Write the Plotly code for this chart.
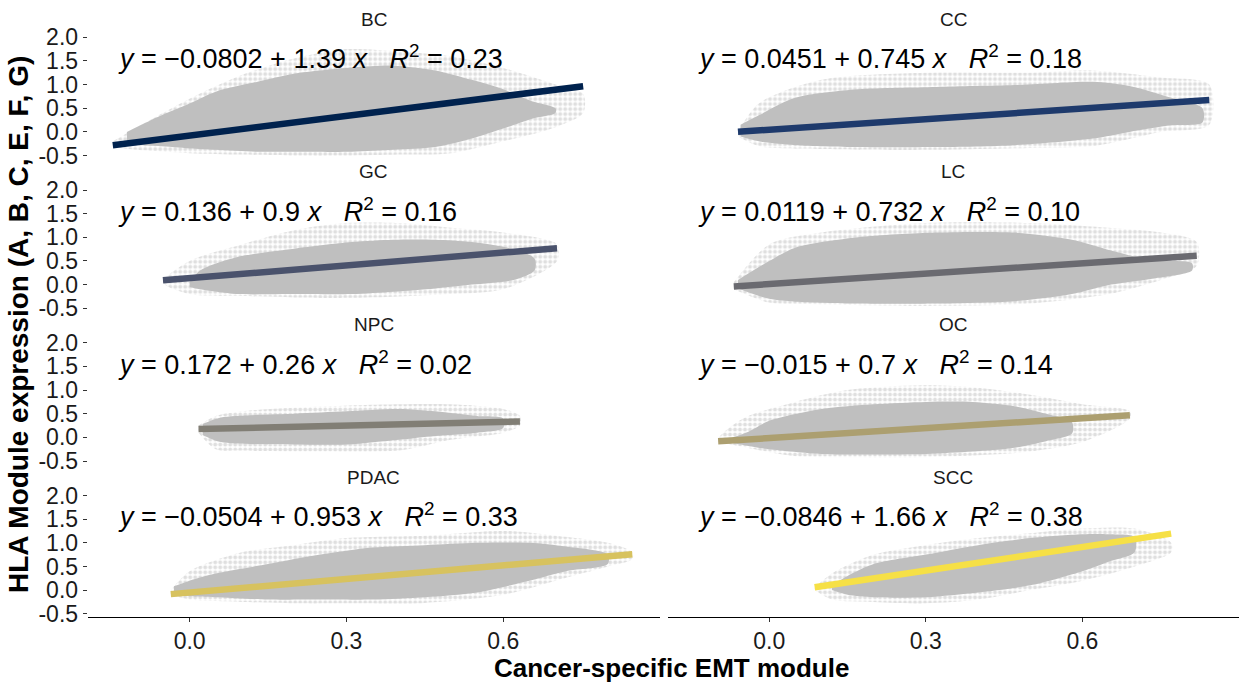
import plotly.graph_objects as go

# ---- per-cancer regression summaries ----
panels = ["BC", "CC", "GC", "LC", "NPC", "OC", "PDAC", "SCC"]
intercepts = [-0.0802, 0.0451, 0.136, 0.0119, 0.172, -0.015, -0.0504, -0.0846]
slopes = [1.39, 0.745, 0.9, 0.732, 0.26, 0.7, 0.953, 1.66]
intercept_labels = ["\u22120.0802", "0.0451", "0.136", "0.0119", "0.172", "\u22120.015", "\u22120.0504", "\u22120.0846"]
slope_labels = ["1.39", "0.745", "0.9", "0.732", "0.26", "0.7", "0.953", "1.66"]
r2_labels = ["0.23", "0.18", "0.16", "0.10", "0.02", "0.14", "0.33", "0.38"]
# EMT score range covered by each cancer's cells
emt_min = [-0.147, -0.060, -0.051, -0.068, 0.017, -0.098, -0.036, 0.087]
emt_max = [0.753, 0.843, 0.703, 0.819, 0.632, 0.691, 0.847, 0.770]

# ---- outline of the cell clouds (dense core and sparse fringe) ----
core_x = [
    [-0.12, -0.06, 0.0, 0.05, 0.13, 0.2, 0.31, 0.39, 0.47, 0.54, 0.6, 0.655, 0.7],
    [-0.055, -0.02, 0.05, 0.17, 0.32, 0.47, 0.62, 0.69, 0.77, 0.83],
    [0.0, 0.02, 0.09, 0.2, 0.31, 0.39, 0.47, 0.54, 0.62, 0.66],
    [-0.06, 0.0, 0.05, 0.17, 0.32, 0.47, 0.58, 0.655, 0.73, 0.81],
    [0.025, 0.06, 0.2, 0.3, 0.4, 0.47, 0.55, 0.6],
    [-0.07, -0.04, 0.0, 0.1, 0.2, 0.3, 0.39, 0.47, 0.53, 0.58],
    [-0.03, 0.0, 0.05, 0.15, 0.25, 0.35, 0.45, 0.55, 0.65, 0.72, 0.8],
    [0.12, 0.15, 0.2, 0.3, 0.4, 0.5, 0.6, 0.65, 0.7],
]
core_hi = [
    [0.0, 0.32, 0.6, 0.85, 1.06, 1.23, 1.36, 1.4, 1.3, 1.1, 0.9, 0.65, 0.5],
    [0.15, 0.35, 0.72, 0.9, 0.95, 0.99, 1.06, 0.97, 0.72, 0.5],
    [0.05, 0.3, 0.58, 0.76, 0.9, 0.95, 0.95, 0.9, 0.75, 0.55],
    [0.1, 0.5, 0.78, 1.0, 1.1, 1.1, 0.95, 0.72, 0.52, 0.45],
    [0.28, 0.42, 0.5, 0.55, 0.6, 0.55, 0.45, 0.4],
    [0.0, 0.12, 0.35, 0.6, 0.7, 0.75, 0.75, 0.66, 0.5, 0.32],
    [0.08, 0.2, 0.35, 0.55, 0.75, 0.9, 0.95, 1.0, 1.0, 0.92, 0.75],
    [0.1, 0.3, 0.55, 0.75, 0.95, 1.1, 1.18, 1.18, 1.12],
]
core_lo = [
    [-0.26, -0.3, -0.35, -0.38, -0.42, -0.42, -0.42, -0.38, -0.32, -0.14, 0.07, 0.28, 0.4],
    [-0.1, -0.2, -0.28, -0.32, -0.32, -0.28, -0.14, 0.0, 0.14, 0.2],
    [-0.05, -0.1, -0.2, -0.2, -0.2, -0.15, -0.08, 0.0, 0.1, 0.3],
    [-0.08, -0.3, -0.36, -0.4, -0.4, -0.35, -0.2, 0.0, 0.12, 0.3],
    [0.05, -0.1, -0.15, -0.15, -0.05, 0.03, 0.1, 0.2],
    [-0.12, -0.18, -0.25, -0.35, -0.36, -0.35, -0.3, -0.22, -0.08, 0.08],
    [-0.1, -0.13, -0.15, -0.2, -0.2, -0.2, -0.15, -0.05, 0.2, 0.4, 0.55],
    [0.0, -0.1, -0.15, -0.15, -0.05, 0.1, 0.4, 0.6, 0.8],
]
fringe_x = [
    [-0.147, -0.1, 0.0, 0.1, 0.2, 0.3, 0.4, 0.5, 0.6, 0.7, 0.753],
    [-0.06, -0.02, 0.1, 0.3, 0.5, 0.62, 0.75, 0.843],
    [-0.051, 0.0, 0.1, 0.2, 0.3, 0.4, 0.5, 0.6, 0.703],
    [-0.068, 0.0, 0.1, 0.3, 0.5, 0.65, 0.75, 0.819],
    [0.017, 0.05, 0.1, 0.25, 0.4, 0.5, 0.6, 0.632],
    [-0.098, -0.05, 0.05, 0.15, 0.3, 0.4, 0.5, 0.6, 0.691],
    [-0.036, 0.0, 0.1, 0.2, 0.3, 0.45, 0.6, 0.7, 0.8, 0.847],
    [0.087, 0.12, 0.2, 0.3, 0.4, 0.5, 0.6, 0.7, 0.77],
]
fringe_hi = [
    [-0.2, 0.1, 0.7, 1.2, 1.55, 1.75, 1.7, 1.6, 1.35, 1.0, 0.8],
    [0.0, 0.6, 1.1, 1.25, 1.25, 1.3, 1.15, 1.0],
    [0.05, 0.5, 0.85, 1.15, 1.3, 1.3, 1.2, 1.1, 0.85],
    [0.05, 0.85, 1.1, 1.3, 1.3, 1.2, 1.1, 0.9],
    [0.25, 0.45, 0.55, 0.65, 0.7, 0.7, 0.6, 0.45],
    [-0.05, 0.4, 0.75, 1.0, 1.1, 1.05, 0.9, 0.7, 0.55],
    [0.0, 0.4, 0.8, 0.95, 1.1, 1.15, 1.25, 1.15, 1.0, 0.8],
    [0.05, 0.35, 0.75, 0.95, 1.1, 1.2, 1.3, 1.3, 1.0],
]
fringe_lo = [
    [-0.32, -0.38, -0.45, -0.48, -0.5, -0.5, -0.48, -0.45, -0.2, 0.1, 0.4],
    [-0.1, -0.3, -0.36, -0.38, -0.34, -0.3, 0.0, 0.15],
    [0.05, -0.2, -0.24, -0.27, -0.28, -0.25, -0.2, -0.1, 0.5],
    [-0.1, -0.38, -0.42, -0.45, -0.4, -0.2, 0.1, 0.4],
    [0.1, -0.25, -0.28, -0.3, -0.28, -0.05, 0.1, 0.25],
    [-0.05, -0.2, -0.4, -0.42, -0.42, -0.38, -0.3, -0.1, 0.4],
    [-0.1, -0.2, -0.25, -0.28, -0.28, -0.27, -0.1, 0.2, 0.5, 0.65],
    [0.0, -0.2, -0.25, -0.28, -0.2, 0.0, 0.2, 0.5, 0.8],
]

line_colors = ["#00224E", "#1E3A6C", "#4A526C", "#6A6A70", "#817E75", "#AC9F70", "#D7C25F", "#F6E046"]
y_ticks = [-0.5, 0.0, 0.5, 1.0, 1.5, 2.0]
x_ticks = [0.0, 0.3, 0.6]

W, H = 1239, 690
col_px = [(87.7, 660.0), (667.5, 1239.0)]
row_top_px = [25.2 + 156.6 * k for k in range(4)]
panel_h_px = 130.0
x_range = [-0.195, 0.9]
y_range = [-0.56, 2.12]

CLOUD = "#BFBFBF"
FONT = "Liberation Sans, Arial, Helvetica, sans-serif"

fig = go.Figure()
layout_axes = {}
annotations = []

for i, name in enumerate(panels):
    r, c = divmod(i, 2)
    n = i + 1
    xa = "x" if n == 1 else f"x{n}"
    ya = "y" if n == 1 else f"y{n}"

    # sparse, speckled fringe of the cloud
    fx = fringe_x[i] + fringe_x[i][::-1]
    fy = fringe_hi[i] + fringe_lo[i][::-1]
    fig.add_trace(go.Scatter(x=fx, y=fy, fill="toself",
                             fillpattern=dict(shape=".", fgcolor=CLOUD, bgcolor="#FFFFFF",
                                              size=5, solidity=0.5),
                             mode="lines", line=dict(width=0, shape="spline", smoothing=0.8),
                             hoverinfo="skip", showlegend=False, xaxis=xa, yaxis=ya))
    # dense core of the cloud
    cx = core_x[i] + core_x[i][::-1]
    cy = core_hi[i] + core_lo[i][::-1]
    fig.add_trace(go.Scatter(x=cx, y=cy, fill="toself", fillcolor=CLOUD,
                             mode="lines", line=dict(width=0, shape="spline", smoothing=0.8),
                             hoverinfo="skip", showlegend=False, xaxis=xa, yaxis=ya))
    # fitted regression line
    lx = [emt_min[i], emt_max[i]]
    ly = [intercepts[i] + slopes[i] * v for v in lx]
    fig.add_trace(go.Scatter(x=lx, y=ly, mode="lines",
                             line=dict(color=line_colors[i], width=6.5),
                             hoverinfo="skip", showlegend=False, xaxis=xa, yaxis=ya))

    x0, x1 = col_px[c]
    top = row_top_px[r]
    bot = top + panel_h_px
    bottom_row = r == 3
    left_col = c == 0

    layout_axes["xaxis" if n == 1 else f"xaxis{n}"] = dict(
        domain=[x0 / W, x1 / W], range=x_range, anchor=ya,
        showgrid=False, zeroline=False,
        showline=bottom_row, linecolor="#000000", linewidth=1.2,
        ticks="outside" if bottom_row else "", ticklen=4, tickcolor="#333333",
        tickvals=x_ticks if bottom_row else [],
        ticktext=[f"{v:.1f}" for v in x_ticks] if bottom_row else [],
        showticklabels=bottom_row,
        tickfont=dict(family=FONT, size=23, color="#1a1a1a"),
    )
    layout_axes["yaxis" if n == 1 else f"yaxis{n}"] = dict(
        domain=[1 - bot / H, 1 - top / H], range=y_range, anchor=xa,
        showgrid=False, zeroline=False, showline=False,
        ticks="outside" if left_col else "", ticklen=4, tickcolor="#333333",
        tickvals=y_ticks if left_col else [],
        ticktext=[f"{v:.1f}" for v in y_ticks] if left_col else [],
        showticklabels=left_col,
        tickfont=dict(family=FONT, size=23, color="#1a1a1a"),
    )

    # facet strip title
    annotations.append(dict(
        text=name, xref=f"{xa} domain", yref=f"{ya} domain", x=0.5, y=1.0,
        xanchor="center", yanchor="bottom", yshift=0, showarrow=False,
        font=dict(family=FONT, size=19, color="#1a1a1a"),
    ))
    # regression equation
    sp = "\u00a0"
    eq = (f"<i>y</i>{sp}={sp}{intercept_labels[i]}{sp}+{sp}{slope_labels[i]}{sp}<i>x</i>"
          f"{sp*3}<i>R</i><sup>2</sup>{sp}={sp}{r2_labels[i]}")
    annotations.append(dict(
        text=eq, xref=xa, yref=ya, x=-0.14, y=1.58,
        xanchor="left", yanchor="middle", showarrow=False,
        font=dict(family=FONT, size=27, color="#000000"),
    ))

annotations.append(dict(
    text="<b>HLA Module expression (A, B, C, E, F, G)</b>",
    xref="paper", yref="paper", x=19 / W, y=1 - 326 / H, textangle=-90,
    xanchor="center", yanchor="middle", showarrow=False,
    font=dict(family=FONT, size=28, color="#000000"),
))
annotations.append(dict(
    text="<b>Cancer-specific EMT module</b>",
    xref="paper", yref="paper", x=671 / W, y=1 - 678 / H,
    xanchor="center", yanchor="middle", showarrow=False,
    font=dict(family=FONT, size=26, color="#000000"),
))

fig.update_layout(
    width=W, height=H,
    margin=dict(l=0, r=0, t=0, b=0),
    paper_bgcolor="#FFFFFF", plot_bgcolor="#FFFFFF",
    showlegend=False,
    annotations=annotations,
    **layout_axes,
)

fig.write_html("out.html")
